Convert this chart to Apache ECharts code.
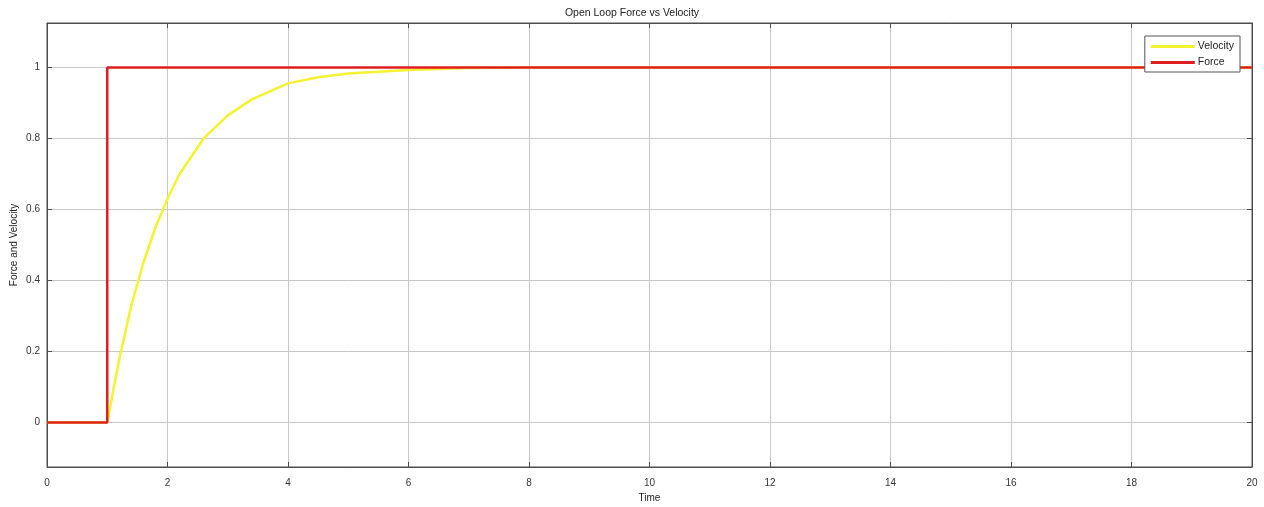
<!DOCTYPE html>
<html>
<head>
<meta charset="utf-8">
<script src="https://cdn.jsdelivr.net/npm/echarts@6/dist/echarts.min.js"></script>
<style>html,body{margin:0;padding:0;background:#fff}#c{width:1264px;height:507px}</style>
</head>
<body>
<div id="c"></div>
<script>
const titleText = 'Open Loop Force vs Velocity';
const xName = 'Time';
const yName = 'Force and Velocity';
const velocityT = [0, 1, 1.2, 1.4, 1.6, 1.8, 2, 2.2, 2.6, 3, 3.4, 4, 4.5, 5, 6, 7, 8, 20];
const velocityV = [0, 0, 0.18, 0.33, 0.45, 0.55, 0.63, 0.70, 0.80, 0.865, 0.91, 0.955, 0.972, 0.983, 0.993, 0.998, 1, 1];
const forceT = [0, 1, 1, 20];
const forceV = [0, 0, 1, 1];
const xTicks = [0, 2, 4, 6, 8, 10, 12, 14, 16, 18, 20];
const yTicks = [0, 0.2, 0.4, 0.6, 0.8, 1];

const velData = velocityT.map((t, i) => [t, velocityV[i]]);
const forceData = forceT.map((t, i) => [t, forceV[i]]);

const chart = echarts.init(document.getElementById('c'));
const axisCol = '#4d4d4d';
const gridCol = '#c8c8c8';
const font = 'Liberation Sans, Arial';
chart.setOption({
  animation: false,
  backgroundColor: '#fff',
  title: {text: titleText, left: 'center', top: 3, textStyle: {fontFamily: font, fontSize: 10.5, fontWeight: 'normal', color: '#222'}},
  grid: {left: 47, right: 12, top: 23, bottom: 40, show: true, borderColor: axisCol, borderWidth: 1, backgroundColor: '#fff', outerBoundsMode: 'none', containLabel: false},
  graphic: [{
    type: 'text', x: 14, y: 245, rotation: Math.PI / 2,
    style: {text: yName, align: 'center', verticalAlign: 'middle', fontFamily: font, fontSize: 10, fill: '#222'}
  }],
  legend: {
    orient: 'vertical', right: 24, top: 36,
    backgroundColor: '#fff', borderColor: '#555', borderWidth: 1, borderRadius: 0,
    padding: [5, 6, 4, 6], itemGap: 5, itemWidth: 44, itemHeight: 10,
    textStyle: {fontFamily: font, fontSize: 10.5, color: '#222', padding: [0, 0, 0, -2]},
    data: [
      {name: 'Velocity', icon: 'path://M0,0 L44,0 L44,3 L0,3 Z'},
      {name: 'Force', icon: 'path://M0,0 L44,0 L44,3 L0,3 Z'}
    ]
  },
  xAxis: [{
    type: 'value', min: 0, max: 20, interval: 2,
    name: xName, nameLocation: 'middle', nameGap: 26,
    nameTextStyle: {fontFamily: font, fontSize: 10, color: '#222'},
    axisLine: {show: true, onZero: false, lineStyle: {color: axisCol}},
    axisTick: {show: true, inside: true, length: 5, lineStyle: {color: axisCol}},
    axisLabel: {fontFamily: font, fontSize: 10, color: '#333', margin: 11},
    splitLine: {show: true, lineStyle: {color: gridCol, width: 1}}
  }, {
    type: 'value', min: 0, max: 20, interval: 2, position: 'top',
    axisLine: {show: true, onZero: false, lineStyle: {color: axisCol}},
    axisTick: {show: true, inside: true, length: 5, lineStyle: {color: axisCol}},
    axisLabel: {show: false}, splitLine: {show: false}
  }],
  yAxis: [{
    type: 'value', min: -0.125, max: 1.125,
    axisLine: {show: true, onZero: false, lineStyle: {color: axisCol}},
    axisTick: {show: true, inside: true, length: 5, customValues: yTicks, lineStyle: {color: axisCol}},
    axisLabel: {fontFamily: font, fontSize: 10, color: '#333', margin: 7, customValues: yTicks, formatter: v => String(+v.toFixed(2))},
    splitLine: {show: true, lineStyle: {color: gridCol, width: 1}}
  }, {
    type: 'value', min: -0.125, max: 1.125, position: 'right',
    axisLine: {show: true, onZero: false, lineStyle: {color: axisCol}},
    axisTick: {show: true, inside: true, length: 5, customValues: yTicks, lineStyle: {color: axisCol}},
    axisLabel: {show: false, customValues: yTicks}, splitLine: {show: false}
  }],
  series: [
    {name: 'Velocity', type: 'line', data: velData, symbol: 'none', color: '#f5f230', lineStyle: {width: 2.5, color: '#f5f230'}, z: 2},
    {name: 'Force', type: 'line', data: forceData, symbol: 'none', color: '#de1f1f', lineStyle: {width: 2.5, color: '#de1f1f'}, z: 3}
  ]
});
</script>
</body>
</html>
